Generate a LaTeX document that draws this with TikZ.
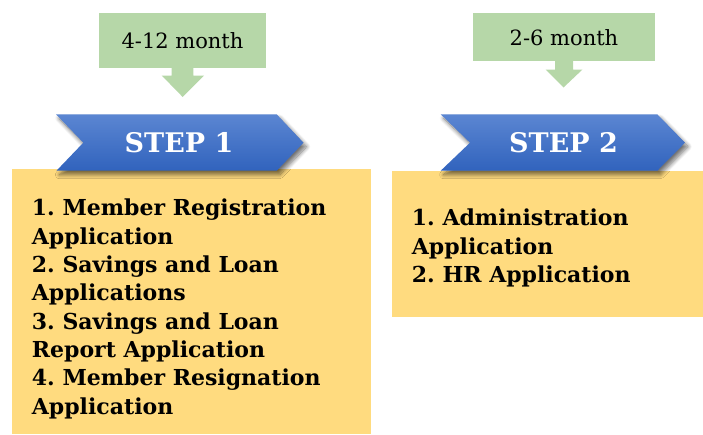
\documentclass[tikz,border=0pt]{standalone}
\usepackage{fontspec}
\setmainfont{DejaVu Serif}
\frenchspacing
\usetikzlibrary{shadows.blur}

\definecolor{greenbox}{HTML}{B6D7A8}
\definecolor{yellowbox}{HTML}{FFDB7F}
\definecolor{bluetop}{HTML}{5B86D2}
\definecolor{bluebot}{HTML}{3163BD}

\tikzset{
  callout/.style={fill=greenbox, draw=none, inner sep=0pt, minimum height=55pt,
    font=\fontsize{21}{25}\selectfont, text=black},
  pointer/.style={fill=greenbox, draw=none},
  chevron/.style={top color=bluetop, bottom color=bluebot, draw=none,
    blur shadow={shadow xshift=3pt, shadow yshift=-4pt, shadow opacity=55,
      shadow blur steps=10, shadow blur radius=4pt}},
  steplabel/.style={text=white, font=\fontsize{27}{32}\selectfont\bfseries, inner sep=0pt},
  listbox/.style={fill=yellowbox, draw=none},
  listtext/.style={align=left, anchor=north west, inner sep=0pt, text=black,
    font=\fontsize{22}{28.3}\selectfont\bfseries}
}

\begin{document}
\begin{tikzpicture}[x=1pt, y=-1pt]
  \useasboundingbox (0,0) rectangle (703,434);

  % yellow panels holding the application lists
  \fill[listbox] (12,169) rectangle (371,434);
  \fill[listbox] (392,171) rectangle (703,317);

  % duration callouts with their down pointers
  \node[callout, minimum width=167pt] (dur1) at (182.5,40.5) {4-12 month};
  \fill[pointer] (171.7,68) -- (193.3,68) -- (193.3,75.5) -- (204,75.5)
    -- (182.7,97) -- (161.7,75.5) -- (171.7,75.5) -- cycle;

  \node[callout, minimum width=182pt, minimum height=48pt] (dur2) at (564,37.2) {2-6 month};
  \fill[pointer] (555,61) -- (573,61) -- (573,69.5) -- (582.5,69.5)
    -- (563.5,87.5) -- (545.5,69.5) -- (555,69.5) -- cycle;

  % step chevrons
  \path[chevron] (56,114.3) -- (276.7,114.3) -- (303.5,142.7) -- (276.7,170.7)
    -- (56.5,170.7) -- (83.3,142.7) -- cycle;
  \node[steplabel] (step1) at (179,143) {STEP 1};

  \path[chevron] (440.7,114.3) -- (657.3,114.3) -- (685,142.7) -- (657.3,170.7)
    -- (440.7,170.7) -- (470,142.7) -- cycle;
  \node[steplabel] (step2) at (563.5,143) {STEP 2};

  % application lists
  \node[listtext] (list1) at (31.7,199) {1. Member Registration\\Application\\2. Savings and Loan\\Applications\\3. Savings and Loan\\Report Application\\4. Member Resignation\\Application};
  \node[listtext] (list2) at (411.7,209) {1. Administration\\Application\\2. HR Application};
\end{tikzpicture}
\end{document}
